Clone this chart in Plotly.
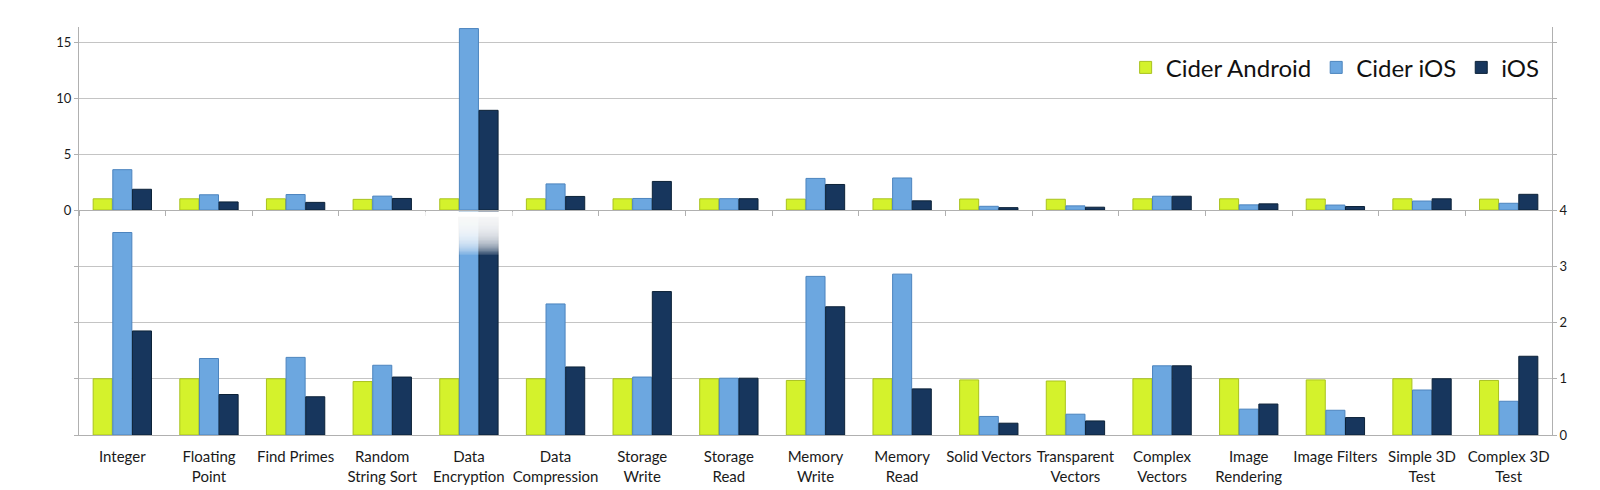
import plotly.graph_objects as go

categories = ["Integer", "Floating<br>Point", "Find Primes", "Random<br>String Sort",
              "Data<br>Encryption", "Data<br>Compression", "Storage<br>Write", "Storage<br>Read",
              "Memory<br>Write", "Memory<br>Read", "Solid Vectors", "Transparent<br>Vectors",
              "Complex<br>Vectors", "Image<br>Rendering", "Image Filters", "Simple 3D<br>Test",
              "Complex 3D<br>Test"]
cider_android = [1.0, 1.0, 1.0, 0.95, 1.0, 1.0, 1.0, 1.0, 0.97, 1.0, 0.98, 0.96, 1.0, 1.0, 0.98, 1.0, 0.97]
cider_ios = [3.60, 1.36, 1.38, 1.24, 16.2, 2.33, 1.03, 1.01, 2.82, 2.86, 0.33, 0.37, 1.23, 0.46, 0.44, 0.80, 0.60]
ios = [1.85, 0.72, 0.68, 1.03, 8.9, 1.21, 2.55, 1.01, 2.28, 0.82, 0.21, 0.25, 1.23, 0.55, 0.31, 1.00, 1.40]

series_names = ["Cider Android", "Cider iOS", "iOS"]
series_values = [cider_android, cider_ios, ios]
fill_colors = ["#D4F22C", "#6CA7E0", "#17365D"]
edge_colors = ["#A9C21F", "#4C84BE", "#0C2238"]

bottom_tickvals = [0, 1, 2, 3, 4]
top_tickvals = [0, 5, 10, 15]
bottom_max = 4
top_max = 16.34

FONT = "Lato"
GRID = "#C4C4C4"
AXIS = "#B0B0B0"

fig = go.Figure()
for name, vals, fc, ec in zip(series_names, series_values, fill_colors, edge_colors):
    fig.add_trace(go.Bar(x=categories, y=vals, name=name, xaxis="x", yaxis="y",
                         marker=dict(color=fc, line=dict(color=ec, width=1)),
                         showlegend=True))
for name, vals, fc, ec in zip(series_names, series_values, fill_colors, edge_colors):
    fig.add_trace(go.Bar(x=categories, y=vals, name=name, xaxis="x2", yaxis="y2",
                         marker=dict(color=fc, line=dict(color=ec, width=1)),
                         showlegend=False))

# fade-out overlay on bars exceeding the lower panel's range (nested layers -> smooth gradient)
shapes = []
fade_lo, fade_hi, steps = 3.2, 3.88, 28
top_white = bottom_max - 0.03
for i, cat in enumerate(categories):
    if max(v[i] for v in series_values) > bottom_max:
        h = (fade_hi - fade_lo) / steps
        for k in range(steps):
            shapes.append(dict(type="rect", xref="x", yref="y",
                               x0=i - 0.5, x1=i + 0.5,
                               y0=fade_lo + k * h, y1=top_white,
                               fillcolor="white", opacity=0.12,
                               line=dict(width=0), layer="above"))
        shapes.append(dict(type="rect", xref="x", yref="y", x0=i - 0.5, x1=i + 0.5,
                           y0=fade_hi, y1=top_white, fillcolor="white",
                           line=dict(width=0), layer="above"))

split = 225 / 408

fig.update_layout(
    width=1600, height=490,
    margin=dict(l=71, r=56, t=19, b=63),
    paper_bgcolor="white", plot_bgcolor="white",
    font=dict(family=FONT, color="#222222"),
    barmode="group", bargap=0.32, bargroupgap=0.03,
    showlegend=True,
    legend=dict(orientation="h", x=0.995, xanchor="right", y=0.9, yanchor="middle",
                font=dict(size=24, family=FONT, color="#111111"),
                bgcolor="rgba(0,0,0,0)", itemwidth=30, traceorder="normal"),
    shapes=shapes,
    xaxis=dict(domain=[0, 1], anchor="y", showline=True, linecolor=AXIS, linewidth=1,
               ticks="outside", ticklen=8, tickcolor="rgba(0,0,0,0)",
               tickfont=dict(size=15, family=FONT, color="#1a1a1a"),
               showgrid=False, zeroline=False),
    xaxis2=dict(domain=[0, 1], anchor="y2", matches="x", showline=True, linecolor=AXIS,
                linewidth=1, ticks="outside", tickson="boundaries", ticklen=5,
                tickcolor=AXIS, showticklabels=False, showgrid=False, zeroline=False),
    yaxis=dict(domain=[0, split], range=[0, bottom_max], side="right", anchor="x",
               tickvals=bottom_tickvals, showgrid=True, gridcolor=GRID, gridwidth=1,
               showline=True, linecolor=AXIS, mirror="ticks", ticks="outside", ticklen=4,
               tickcolor=AXIS, zeroline=False,
               tickfont=dict(size=13, family=FONT, color="#1a1a1a")),
    yaxis2=dict(domain=[split, 1], range=[0, top_max], side="left", anchor="x2",
                tickvals=top_tickvals, showgrid=True, gridcolor=GRID, gridwidth=1,
                showline=True, linecolor=AXIS, mirror="ticks", ticks="outside", ticklen=4,
                tickcolor=AXIS, zeroline=False,
                tickfont=dict(size=13, family=FONT, color="#1a1a1a")),
)

fig.write_html("out.html")
